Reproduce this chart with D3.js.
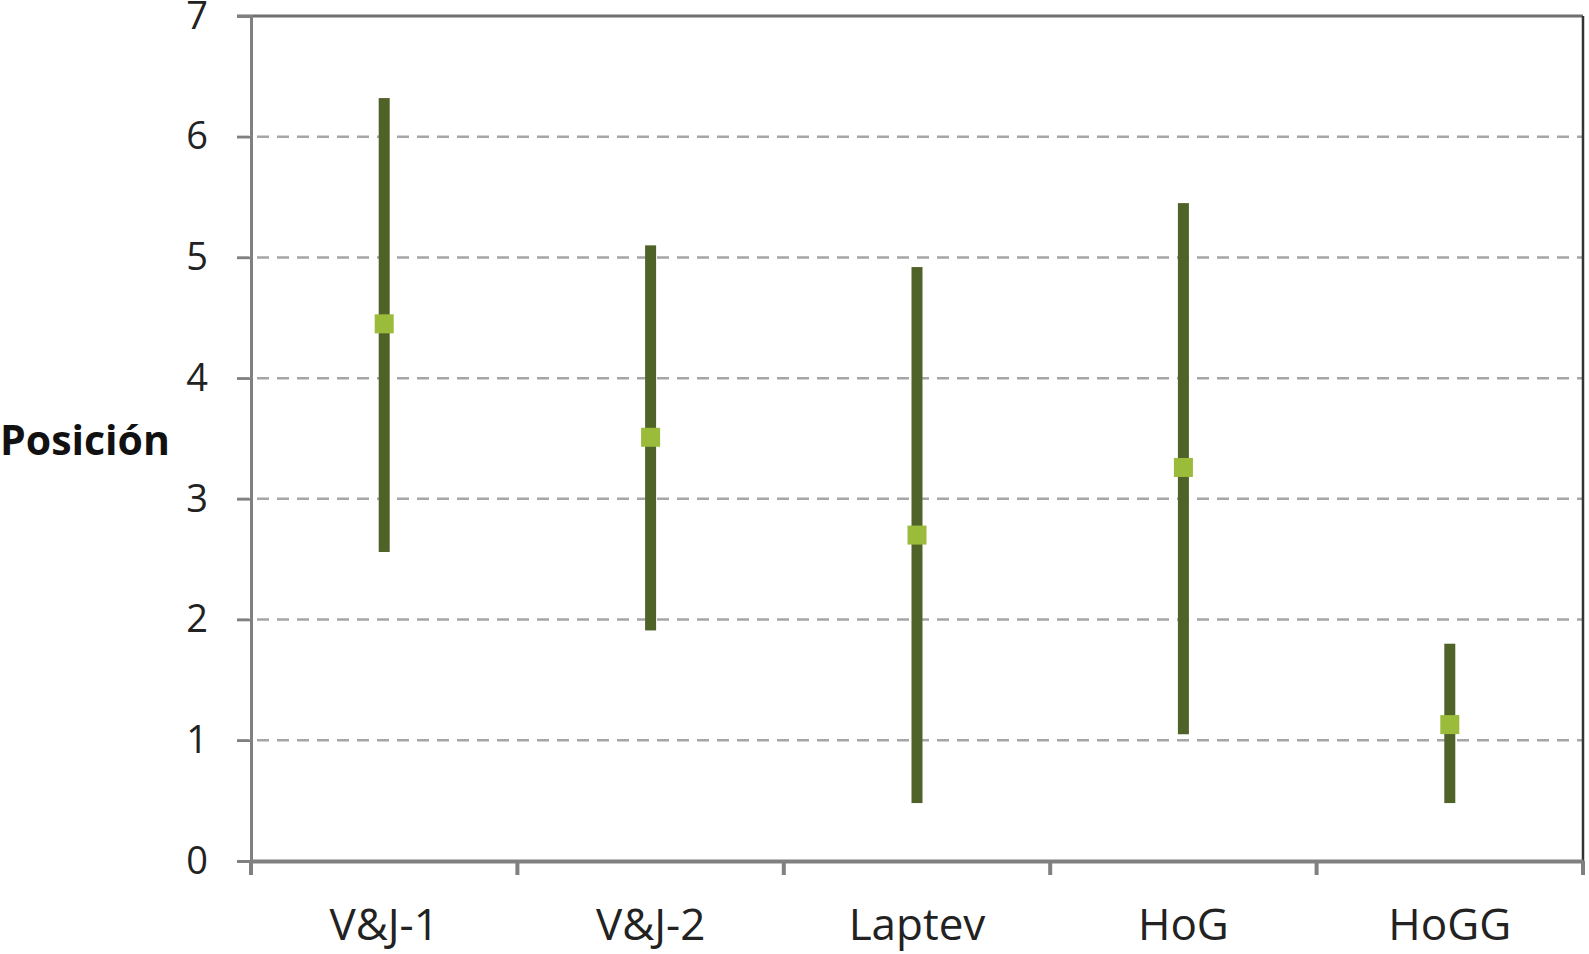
<!DOCTYPE html>
<html><head><meta charset="utf-8">
<script src="https://cdn.jsdelivr.net/npm/d3@7"></script>
<style>body{margin:0;background:#fff}svg{display:block}</style>
</head><body>
<script>
const categories = ["V&J-1","V&J-2","Laptev","HoG","HoGG"];
const highs = [6.32, 5.10, 4.92, 5.45, 1.80];
const lows  = [2.56, 1.91, 0.48, 1.05, 0.48];
const means = [4.45, 3.51, 2.70, 3.26, 1.13];
const yTicks = [0,1,2,3,4,5,6,7];
const yLabel = "Posición";

const W=1589,H=954;
const m={left:251,right:1583,top:16,bottom:861};
const svg=d3.select("body").append("svg").attr("width",W).attr("height",H);
const font="'Open Sans', sans-serif";

const x=d3.scaleBand().domain(categories).range([m.left,m.right]);
const y=d3.scaleLinear().domain([0,7]).range([m.bottom,m.top]);

// gridlines
svg.append("g").selectAll("line").data(yTicks.filter(d=>d>0&&d<7)).join("line")
  .attr("x1",m.left-14).attr("x2",m.right).attr("y1",d=>y(d)).attr("y2",d=>y(d))
  .attr("stroke","#a6a6a6").attr("stroke-width",2.5).attr("stroke-dasharray","12,8");

// top & right border
svg.append("line").attr("x1",m.left-14).attr("x2",m.right).attr("y1",m.top).attr("y2",m.top)
  .attr("stroke","#6e6e6e").attr("stroke-width",3);
svg.append("line").attr("x1",m.right).attr("x2",m.right).attr("y1",m.top).attr("y2",m.bottom)
  .attr("stroke","#333").attr("stroke-width",2.5);

// y axis
const ya=svg.append("g").attr("transform",`translate(${m.left},0)`)
  .call(d3.axisLeft(y).tickValues(yTicks).tickFormat(d3.format("d")).tickSize(14).tickPadding(29));
ya.select(".domain").attr("stroke","#808080").attr("stroke-width",3);
ya.selectAll(".tick line").attr("stroke","#808080").attr("stroke-width",2.5);
ya.selectAll("text").attr("font-family",font).attr("font-size",38).attr("fill","#222");

// x axis
const xa=svg.append("g").attr("transform",`translate(0,${m.bottom})`)
  .call(d3.axisBottom(x).tickSize(0).tickPadding(48));
xa.select(".domain").attr("stroke","#808080").attr("stroke-width",4);
xa.selectAll("text").attr("font-family",font).attr("font-size",44).attr("fill","#222");
const bounds=categories.map((c,i)=>x(c)).concat([m.right]);
svg.append("g").selectAll("line").data(bounds).join("line")
  .attr("x1",d=>d).attr("x2",d=>d).attr("y1",m.bottom).attr("y2",m.bottom+14)
  .attr("stroke","#808080").attr("stroke-width",4);

// y label
svg.append("text").attr("x",0).attr("y",441).attr("dy","0.35em")
  .attr("font-family",font).attr("font-weight","bold").attr("font-size",41).attr("fill","#111").text(yLabel);

// bars
const cx=c=>x(c)+x.bandwidth()/2;
svg.append("g").selectAll("rect").data(categories).join("rect")
  .attr("x",c=>cx(c)-5.5).attr("width",11)
  .attr("y",(c,i)=>y(highs[i])).attr("height",(c,i)=>y(lows[i])-y(highs[i]))
  .attr("fill","#4f6228");
svg.append("g").selectAll("rect").data(categories).join("rect")
  .attr("x",c=>cx(c)-9.5).attr("width",19)
  .attr("y",(c,i)=>y(means[i])-9.5).attr("height",19)
  .attr("fill","#9bbb3b");
</script>
</body></html>
